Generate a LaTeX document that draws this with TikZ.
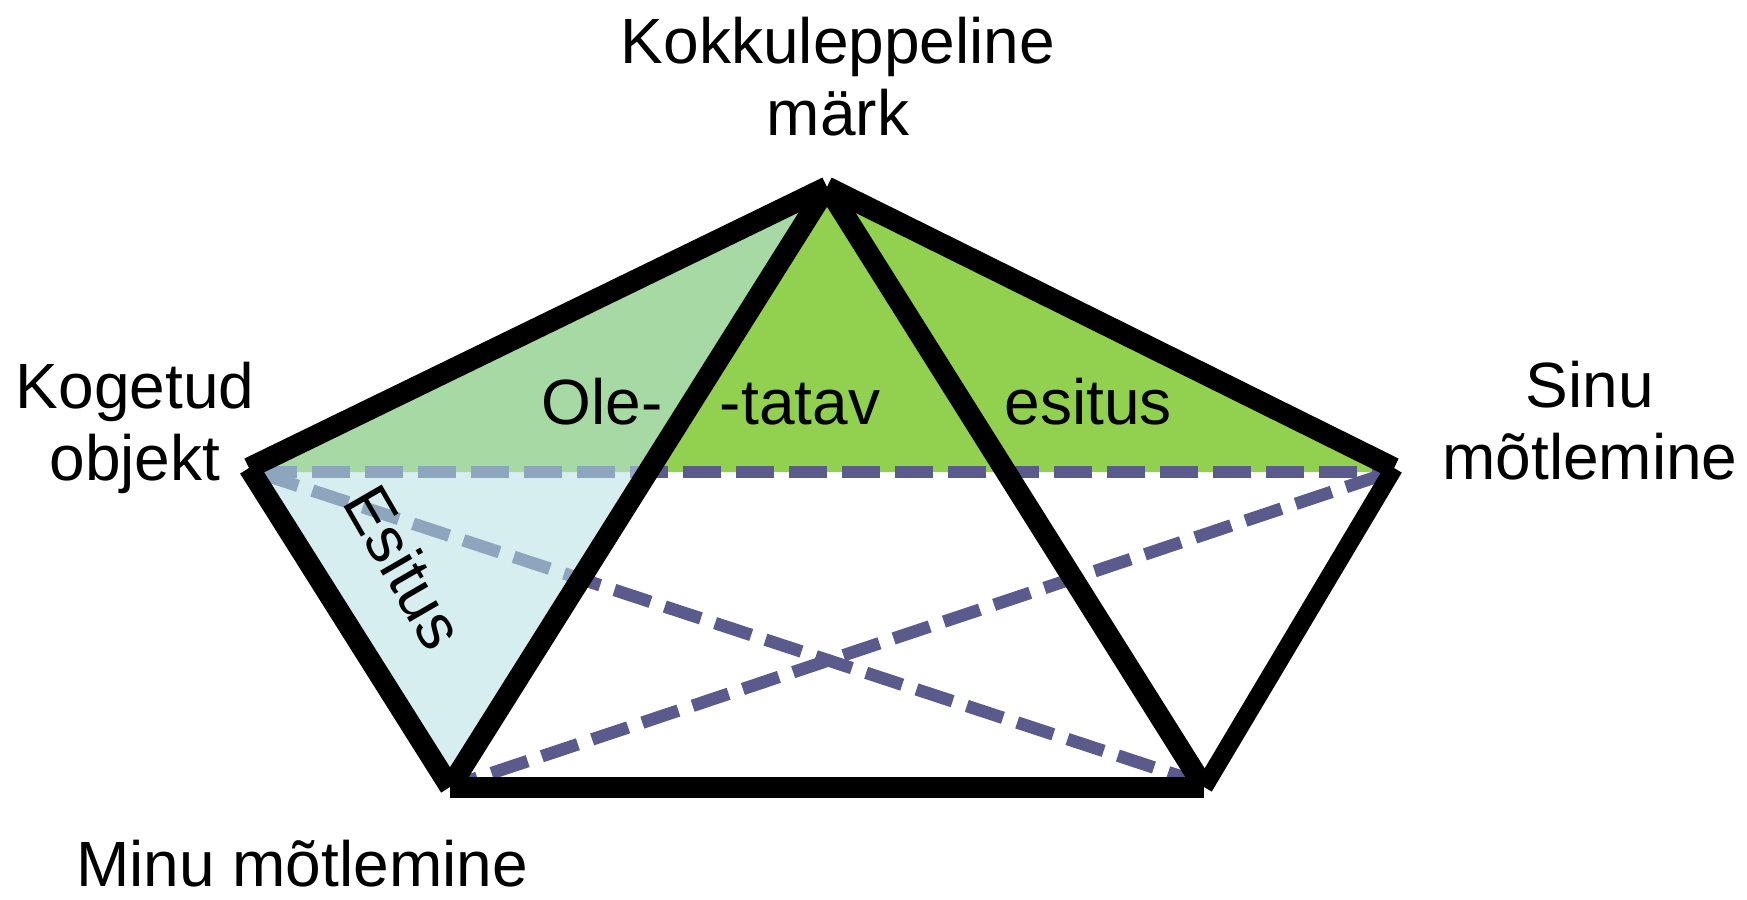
\documentclass[tikz,border=0pt]{standalone}
\usepackage{fontspec}
\setmainfont{Liberation Sans}
\definecolor{leaf}{RGB}{146,208,80}
\definecolor{sky}{RGB}{182,225,229}
\definecolor{dashcol}{RGB}{90,91,140}
\begin{document}
\begin{tikzpicture}[x=1pt,y=-1pt,
  edge/.style={line width=21pt, line cap=butt},
  thinedge/.style={line width=18pt, line cap=butt},
  link/.style={draw=dashcol, line width=12.5pt, dash pattern=on 38pt off 15pt},
  lbl/.style={inner sep=0pt, font=\fontsize{64}{72}\selectfont, align=center}]
\useasboundingbox (0,0) rectangle (1747,899);
% vertices
\coordinate (T) at (827,187);
\coordinate (L) at (249,468);
\coordinate (R) at (1394,468);
\coordinate (BL) at (450,787);
\coordinate (BR) at (1204,787);
% fill limits and dashed-line ends
\coordinate (gL) at (256,472);
\coordinate (gR) at (1387,472);
\coordinate (dL) at (259,472);
\coordinate (dR) at (1385,472);
\coordinate (dL2) at (262,474);
\coordinate (dR2) at (1382,475);
\coordinate (dBL) at (468,781);
\coordinate (dBR) at (1195,781);
% green band
\fill[leaf] (T) -- (gL) -- (gR) -- cycle;
% dashed links
\draw[link] (dL) -- (dR);
\draw[link] (dL2) -- (dBR);
\draw[link] (dR2) -- (dBL);
% translucent left triangle
\fill[sky, fill opacity=0.56] (T) -- (L) -- (BL) -- cycle;
% black edges
\draw[edge] (T) -- (L);
\draw[edge] (L) -- (BL);
\draw[edge] (T) -- (BL);
\draw[edge] (T) -- (BR);
\draw[edge] (T) -- (R);
\draw[thinedge] (R) -- (BR);
\draw[edge] (BL) -- (BR);
% labels
\node[lbl] (top) at (838,77) {Kokkuleppeline\\märk};
\node[lbl] (obj) at (135,428) {Kogetud\\objekt};
\node[lbl] (you) at (1590,421) {Sinu\\mõtlemine};
\node[lbl, anchor=base] (me) at (302,886) {Minu mõtlemine};
\node[lbl, anchor=base] (ole) at (602,424) {Ole-};
\node[lbl, anchor=base] (tatav) at (800,424) {-tatav};
\node[lbl, anchor=base] (esit) at (1088,424) {esitus};
\node[lbl, rotate=-60] (Esit) at (405,567) {Esitus};
\end{tikzpicture}
\end{document}
